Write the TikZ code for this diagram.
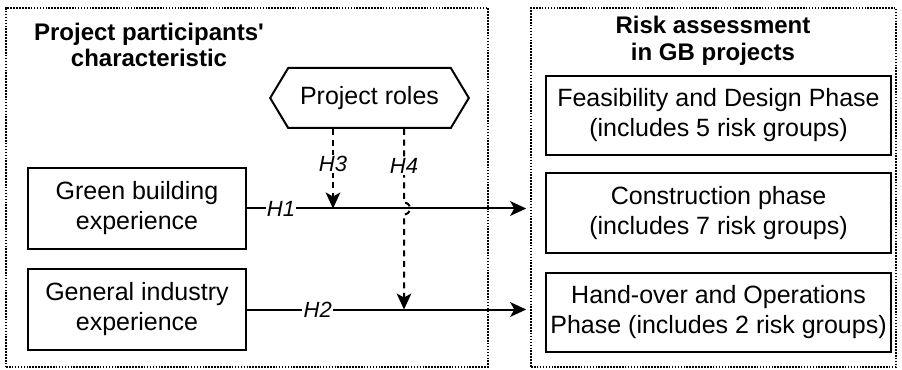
\documentclass[tikz,border=0pt]{standalone}
\usepackage{fontspec}
\setmainfont{Liberation Sans}
\usetikzlibrary{arrows.meta,shapes.symbols}

\tikzset{
	group/.style={draw, line width=1.2pt, dash pattern=on 1.2pt off 1pt, minimum height=269.25pt},
	box/.style={draw, line width=1.5pt, inner sep=0pt, align=center, minimum width=163.5pt, minimum height=60.5pt, font=\fontsize{18.75}{22.5}\selectfont},
	phase/.style={box, minimum width=258.75pt, minimum height=59.5pt},
	title/.style={align=center, font=\fontsize{18}{20}\selectfont\bfseries},
	hyp/.style={line width=1.5pt, -{Stealth[length=12pt,width=11pt,inset=3pt]}},
	moder/.style={hyp, dash pattern=on 4.5pt off 3.5pt},
	hlabel/.style={fill=white, inner sep=1pt, font=\fontsize{16.5}{18}\selectfont\itshape}
}

\begin{document}
\begin{tikzpicture}
	[x=0.75pt,y=-0.75pt]
	\useasboundingbox (0,0) rectangle (902,370);
	% the two groups
	\node[group, minimum width=361.5pt] (part) at (247,187.5) {};
	\node[group, minimum width=273.75pt] (risk) at (713.5,187.5) {};
	\node[title] (tpart) at (149,45) {Project participants\textquotesingle\\characteristic};
	\node[title] (trisk) at (713,41) {Risk assessment\\in GB projects};
	
	\node[box] (gb) at (137,208.5) {Green building\\experience};
	\node[box] (gi) at (137,309.5) {General industry\\experience};
	\node[draw, line width=1.5pt, shape=signal, signal to=west and east, signal pointer angle=118, inner sep=0pt, minimum width=149pt, minimum height=45pt, font=\fontsize{18.75}{22.5}\selectfont] (roles) at (369.5,98) {Project roles};
	
	\node[phase] (fd) at (718.5,115.5) {Feasibility and Design Phase\\(includes 5 risk groups)};
	\node[phase] (cp) at (718.5,213) {Construction phase\\(includes 7 risk groups)};
	\node[phase] (ho) at (718.5,312.5) {Hand-over and Operations\\Phase (includes 2 risk groups)};
	
	\coordinate (x3) at (333,0);
	\coordinate (x4) at (404,0);
	\coordinate (j4) at (gb.east -| x4);
	
	\foreach \from/\lbl/\p in {gb/H1/0.12,gi/H2/0.25}
	\draw[hyp, shorten >=3pt] (\from.east) -- node[hlabel, pos=\p] {\lbl} (\from.east -| risk.west);
	\draw[moder] (roles.south -| x3) -- node[hlabel, pos=0.44] {H3} (gb.east -| x3);
	\draw[moder] (roles.south -| x4) -- node[hlabel, pos=0.5] {H4} ([yshift=4.5pt]j4)
		arc[start angle=90, end angle=-90, radius=4.5pt] -- (gi.east -| x4);
\end{tikzpicture}
\end{document}
